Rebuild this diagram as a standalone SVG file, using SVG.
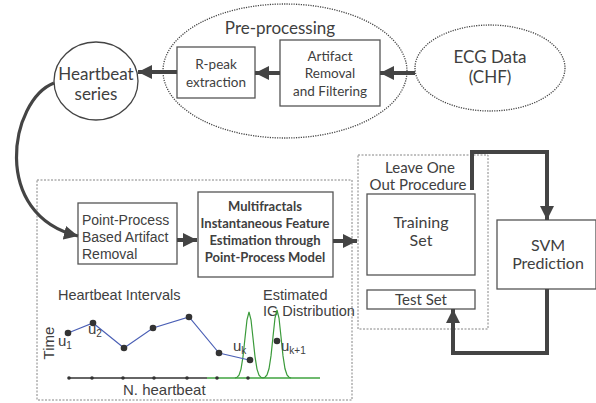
<svg xmlns="http://www.w3.org/2000/svg" width="596" height="403" viewBox="0 0 596 403">
<defs>
<style>
.t{font-family:Lato,"Open Sans",sans-serif;fill:#404040;text-anchor:middle}
.a{font-family:"Liberation Sans",Arial,sans-serif;fill:#404040}
.box{fill:#fff;stroke:#555;stroke-width:1.3}
.dot{fill:none;stroke:#444;stroke-width:1.3;stroke-dasharray:1.2 1.2}
.dash{fill:none;stroke:#777;stroke-width:0.9;stroke-dasharray:2 1.5}
.con{fill:none;stroke:#444;stroke-width:4}
.pt{fill:#333}
</style>
<marker id="ah" viewBox="0 0 10 10" refX="10" refY="5" markerWidth="14" markerHeight="14" markerUnits="userSpaceOnUse" orient="auto">
<path d="M0,0 L10,5 L0,10 Z" fill="#444"/>
</marker>
</defs>

<g id="preprocessing">
<ellipse cx="285" cy="71" rx="122" ry="67" class="dot"/>
<text x="280" y="34" class="t" font-size="17">Pre-processing</text>
</g>
<g id="ecg">
<ellipse cx="490" cy="68" rx="75" ry="43" class="dot"/>
<text x="490" y="63" class="t" font-size="17">ECG Data</text>
<text x="490" y="83" class="t" font-size="17">(CHF)</text>
</g>
<g id="artifact">
<rect x="280" y="40" width="100" height="66" class="box"/>
<text x="330" y="61" class="t" font-size="13.5">Artifact</text>
<text x="330" y="78" class="t" font-size="13.5">Removal</text>
<text x="330" y="96" class="t" font-size="13.5">and Filtering</text>
</g>
<g id="rpeak">
<rect x="177" y="47" width="78" height="51" class="box"/>
<text x="216" y="69" class="t" font-size="13.5">R-peak</text>
<text x="216" y="87" class="t" font-size="13.5">extraction</text>
</g>
<g id="heartbeat">
<ellipse cx="96" cy="81" rx="42" ry="39" fill="#fff" stroke="#444" stroke-width="1.3"/>
<text x="96" y="80" class="t" font-size="17">Heartbeat</text>
<text x="96" y="100" class="t" font-size="17">series</text>
</g>

<g id="features">
<rect x="37" y="180" width="315" height="220" class="dash"/>
</g>
<g id="pointprocess">
<rect x="78" y="203" width="99" height="61" class="box"/>
<text x="82" y="225" class="a" font-size="14">Point-Process</text>
<text x="82" y="242" class="a" font-size="14">Based Artifact</text>
<text x="82" y="259" class="a" font-size="14">Removal</text>
</g>
<g id="multifractals">
<rect x="198" y="192" width="135" height="85" class="box" stroke-width="1.6"/>
<text x="265" y="211" class="t" font-size="13" font-weight="bold">Multifractals</text>
<text x="265" y="228" class="t" font-size="13" font-weight="bold">Instantaneous Feature</text>
<text x="265" y="245" class="t" font-size="13" font-weight="bold">Estimation through</text>
<text x="265" y="262" class="t" font-size="13" font-weight="bold">Point-Process Model</text>
</g>

<g id="leaveoneout">
<rect x="358" y="155" width="130" height="174" class="dash"/>
<text x="420" y="173" class="t" font-size="15">Leave One</text>
<text x="418" y="190" class="t" font-size="15">Out Procedure</text>
</g>
<g id="training">
<rect x="367" y="194" width="108" height="81" class="box"/>
<text x="421" y="228" class="t" font-size="16">Training</text>
<text x="421" y="246" class="t" font-size="16">Set</text>
</g>
<g id="testset">
<rect x="367" y="290" width="108" height="19" class="box"/>
<text x="421" y="305" class="t" font-size="15">Test Set</text>
</g>
<g id="svm">
<rect x="497" y="220" width="99" height="69" class="box"/>
<text x="548" y="251" class="t" font-size="16">SVM</text>
<text x="548" y="269" class="t" font-size="16">Prediction</text>
</g>

<g id="plot">
<text x="58" y="300" class="a" font-size="14.5">Heartbeat Intervals</text>
<text x="263" y="300" class="a" font-size="14.5">Estimated</text>
<text x="263" y="316" class="a" font-size="14.5">IG Distribution</text>
<text transform="translate(54,343) rotate(-90)" class="a" font-size="15" text-anchor="middle">Time</text>
<text x="123" y="395" class="a" font-size="15">N. heartbeat</text>
<line x1="69" y1="378" x2="248" y2="378" stroke="#666" stroke-width="1.8"/>
<line x1="207" y1="378" x2="320" y2="378" stroke="#6fba6f" stroke-width="1.8"/>
<g fill="#333">
<circle cx="69" cy="378" r="1.8"/><circle cx="92" cy="378" r="1.8"/><circle cx="123" cy="378" r="1.8"/><circle cx="154" cy="378" r="1.8"/><circle cx="187" cy="378" r="1.8"/><circle cx="217" cy="378" r="1.8"/><circle cx="248" cy="378" r="1.8"/>
</g>
<path d="M235,378 L237,377.3 L239,375.1 L241,369.1 L243,356.6 L245,338 L247,319.8 L249,312 L251,319.8 L253,338 L255,356.6 L257,369.1 L259,375.1 L261,377.3 L263,378" fill="none" stroke="#3a9a3a" stroke-width="1.2"/>
<path d="M263,378 L265,377.2 L267,375 L269,368.8 L271,355.9 L273,336.8 L275,318 L277,310 L279,318 L281,336.8 L283,355.9 L285,368.8 L287,375 L289,377.2 L291,378" fill="none" stroke="#3a9a3a" stroke-width="1.2"/>
<polyline points="68,333 93,323 124,348 153,328 189,317 219,353 249,360" fill="none" stroke="#4a5fb5" stroke-width="1.1"/>
<g fill="#333">
<circle cx="68" cy="333" r="3.3"/><circle cx="93" cy="323" r="3.3"/><circle cx="124" cy="348" r="3.3"/><circle cx="153" cy="328" r="3.3"/><circle cx="189" cy="317" r="3.3"/><circle cx="219" cy="353" r="3.3"/><circle cx="250" cy="360" r="3.3"/><circle cx="277" cy="341" r="3.3"/>
</g>
<text x="58" y="346" class="a" font-size="15">u<tspan font-size="10" dy="3">1</tspan></text>
<text x="88" y="334" class="a" font-size="15">u<tspan font-size="10" dy="3">2</tspan></text>
<text x="233" y="351" class="a" font-size="15">u<tspan font-size="10" dy="3">k</tspan></text>
<text x="281" y="351" class="a" font-size="15">u<tspan font-size="10" dy="3">k+1</tspan></text>
</g>

<g id="connectors">
<line x1="415" y1="73" x2="380" y2="73" class="con" marker-end="url(#ah)"/>
<line x1="280" y1="73" x2="255" y2="73" class="con" marker-end="url(#ah)"/>
<line x1="177" y1="72" x2="138" y2="72" class="con" marker-end="url(#ah)"/>
<path d="M54,83 C10,100 -10,215 78,236" fill="none" stroke="#444" stroke-width="3.2" marker-end="url(#ah)"/>
<line x1="177" y1="240" x2="197" y2="240" class="con" marker-end="url(#ah)"/>
<line x1="333" y1="241" x2="357" y2="241" class="con" marker-end="url(#ah)"/>
<polyline points="472,190 472,152 547,152 547,220" class="con" marker-end="url(#ah)"/>
<polyline points="547,289 547,353 453,353 453,309" class="con" marker-end="url(#ah)"/>
</g>
</svg>
